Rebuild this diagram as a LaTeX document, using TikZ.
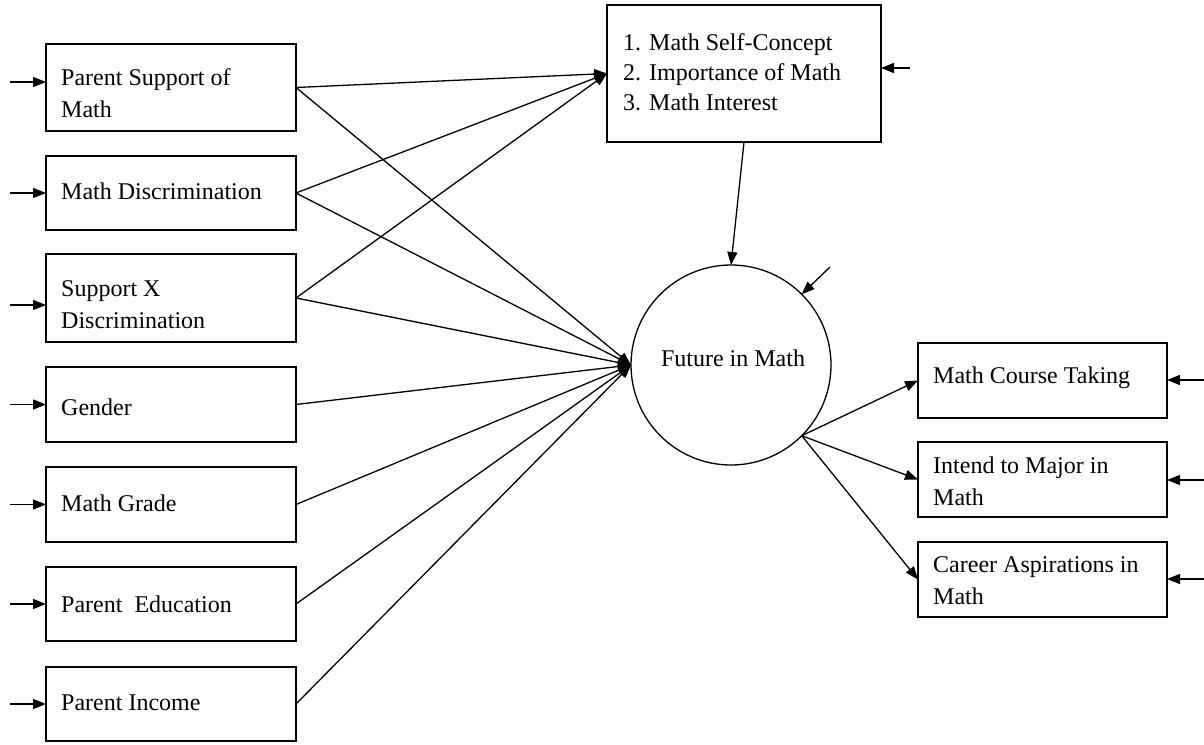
\documentclass[tikz,border=0pt]{standalone}
\usepackage{fontspec}
\setmainfont{Liberation Serif}
\usetikzlibrary{arrows.meta,calc}
\begin{document}
\begin{tikzpicture}[x=1pt,y=-1pt,
  box/.style={draw, line width=1.3pt, rectangle, inner sep=0pt, outer sep=0pt},
  lbl/.style={anchor=west, align=left, inner sep=0pt, font=\fontsize{24}{32}\selectfont},
  conn/.style={line width=1.3pt},
  arr/.style={line width=1.3pt, -{Triangle[length=13pt,width=10pt]}}]
\useasboundingbox (0,0) rectangle (1204,744);

% left boxes
\node[box, minimum width=250pt, minimum height=87pt] (b1) at (171,87.5) {};
\node[box, minimum width=250pt, minimum height=74pt] (b2) at (171,193) {};
\node[box, minimum width=250pt, minimum height=88pt] (b3) at (171,298) {};
\node[box, minimum width=250pt, minimum height=75pt] (b4) at (171,404.5) {};
\node[box, minimum width=250pt, minimum height=75pt] (b5) at (171,504.5) {};
\node[box, minimum width=250pt, minimum height=74pt] (b6) at (171,604) {};
\node[box, minimum width=250pt, minimum height=74pt] (b7) at (171,704) {};

\node[lbl] (t1) at (61,93.5) {Parent Support of\\Math};
\node[lbl] (t2) at (61,191.5) {Math Discrimination};
\node[lbl] (t3) at (61,305) {Support X\\Discrimination};
\node[lbl] (t4) at (61,407.5) {Gender};
\node[lbl] (t5) at (61,503) {Math Grade};
\node[lbl] (t6) at (61,604.5) {Parent~~Education};
\node[lbl] (t7) at (61,703) {Parent Income};

% mediator box
\node[box, minimum width=274pt, minimum height=137pt] (M) at (744,73.5) {};
\node[lbl, font=\fontsize{24}{30}\selectfont] (tm) at (623,72) {1. Math Self-Concept\\2. Importance of Math\\3. Math Interest};

% latent circle
\node[draw, circle, line width=1.3pt, minimum size=200pt, inner sep=0pt, outer sep=0pt] (F) at (731,365) {};
\node[inner sep=0pt, font=\fontsize{24}{32}\selectfont] (tf) at (733,358) {Future in Math};

% right boxes
\node[box, minimum width=249pt, minimum height=75pt] (c1) at (1042.5,380.5) {};
\node[box, minimum width=249pt, minimum height=75pt] (c2) at (1042.5,479.5) {};
\node[box, minimum width=249pt, minimum height=75pt] (c3) at (1042.5,579.5) {};
\node[lbl] (tc1) at (933,378) {Math Course Taking};
\node[lbl] (tc2) at (933,481.5) {Intend to Major in\\Math};
\node[lbl] (tc3) at (933,580.5) {Career Aspirations in\\Math};

% error arrows on the left
\coordinate (e1) at (10,82);
\coordinate (e2) at (10,193);
\coordinate (e3) at (10,305);
\coordinate (e4) at (10,404.5);
\coordinate (e5) at (10,504.5);
\coordinate (e6) at (10,604);
\coordinate (e7) at (10,704);
\foreach \i in {1,...,7} {\draw[arr] (e\i) -- (e\i -| b\i.west);}

% error arrows on the right
\coordinate (r1) at (1204,380);
\coordinate (r2) at (1204,480);
\coordinate (r3) at (1204,579);
\foreach \i in {1,2,3} {\draw[arr] (r\i) -- (r\i -| c\i.east);}

% error to mediator and latent
\coordinate (em) at (910,68);
\draw[arr] (em) -- (em -| M.east);
\coordinate (ef) at (830,267);
\draw[arr] (ef) -- (F.45);

% paths to mediator
\foreach \i in {1,2,3} {\draw[arr] (b\i.east) -- (M.west);}
% paths to latent
\foreach \i in {1,...,7} {\draw[arr] (b\i.east) -- (F.west);}
\draw[arr] (M.south) -- (F.north);

% latent to indicators
\foreach \i in {1,2,3} {\draw[arr] (F.-45) -- (c\i.west);}
\end{tikzpicture}
\end{document}
